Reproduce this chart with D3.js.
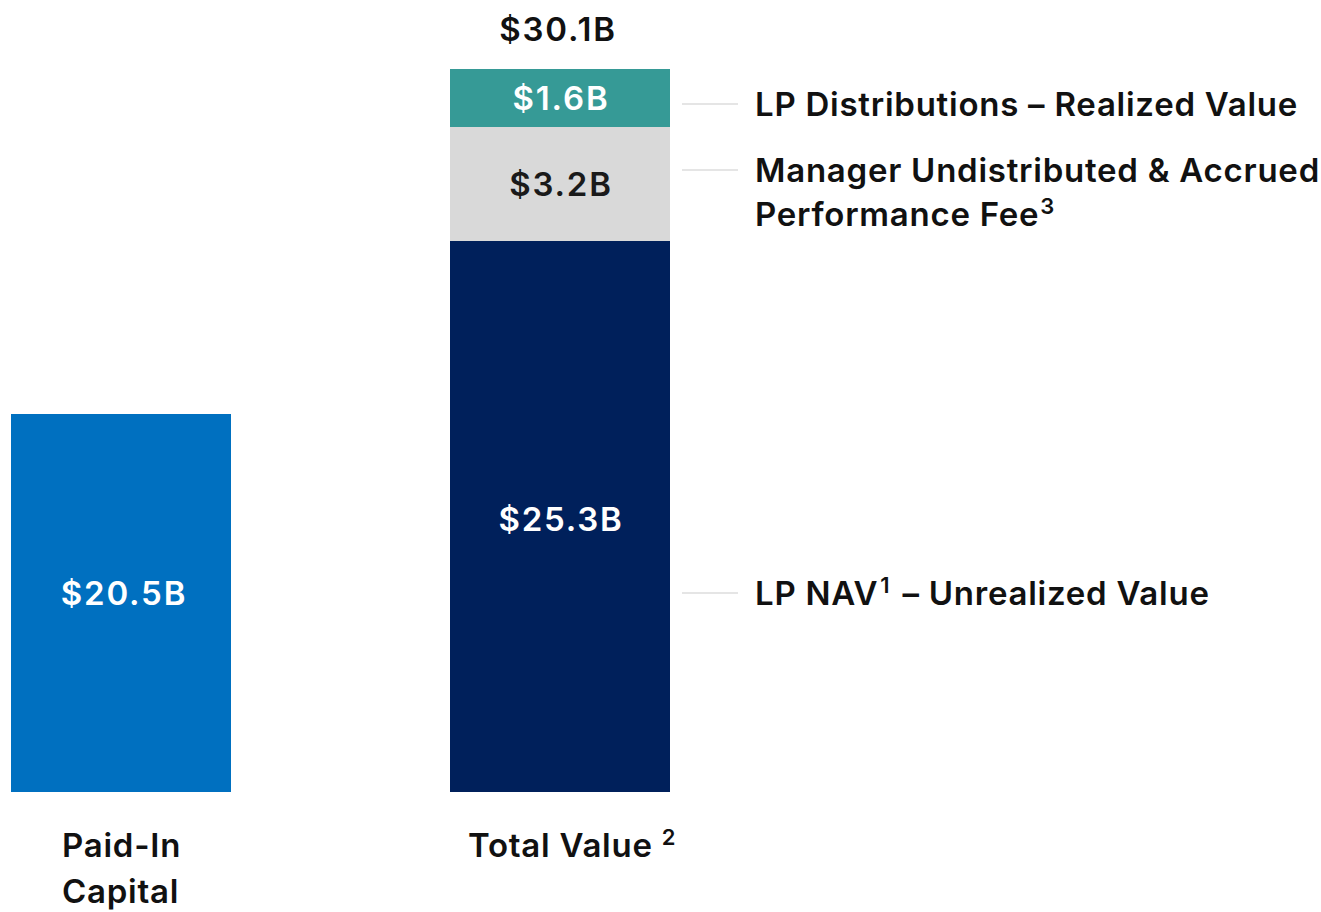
<!DOCTYPE html>
<html><head><meta charset="utf-8">
<script src="https://cdn.jsdelivr.net/npm/d3@7"></script>
<style>
body{margin:0;background:#fff;}
text{font-family:Inter,Roboto,sans-serif;}
</style></head>
<body>
<svg id="chart" width="1321" height="912"></svg>
<script>
// ---- data ----
const categories = ["Paid-In Capital", "Total Value"];
const paidIn = [20.5];
const segmentNames = ["LP NAV – Unrealized Value", "Manager Undistributed & Accrued Performance Fee", "LP Distributions – Realized Value"];
const totalSegments = [25.3, 3.2, 1.6];
const totalLabel = "$30.1B";
const segmentColors = ["#00205B", "#D9D9D9", "#369A96"];
const segmentTextColors = ["#ffffff", "#1a1a1a", "#ffffff"];
const paidInColor = "#0070C0";

const svg = d3.select("#chart");
const baseY = 792;
const FW = 600, FS = 33, LS = 0.75, VLS = 1.8;

const x = d3.scaleOrdinal().domain(categories).range([11, 450]);
const bw = 220;

// y: piecewise linear scale (the original is not drawn proportionally)
const cum = d3.cumsum(totalSegments);
const y = d3.scaleLinear()
  .domain([0, paidIn[0], cum[0], cum[1], cum[2]])
  .range([baseY, 414, 241, 127, 69]);

// Paid-in bar
svg.append("rect")
  .attr("x", x(categories[0])).attr("width", bw)
  .attr("y", y(paidIn[0])).attr("height", y(0) - y(paidIn[0]))
  .attr("fill", paidInColor);
svg.append("text")
  .attr("x", x(categories[0]) + bw/2 + 3).attr("y", (y(0)+y(paidIn[0]))/2 - 10)
  .attr("text-anchor","middle").attr("dominant-baseline","central")
  .attr("fill","#fff").attr("font-size",FS).attr("font-weight",FW).attr("letter-spacing",VLS)
  .text("$" + paidIn[0].toFixed(1) + "B");

// Stacked total bar
const stacked = totalSegments.map((v,i)=>({v, i, y0: i ? cum[i-1] : 0, y1: cum[i]}));
svg.selectAll("rect.seg").data(stacked).join("rect").attr("class","seg")
  .attr("x", x(categories[1])).attr("width", bw)
  .attr("y", d => y(d.y1)).attr("height", d => y(d.y0) - y(d.y1))
  .attr("fill", d => segmentColors[d.i]);
svg.selectAll("text.seg").data(stacked).join("text").attr("class","seg")
  .attr("x", x(categories[1]) + bw/2 + 1)
  .attr("y", d => (y(d.y0)+y(d.y1))/2 + (d.i===0 ? 2 : 0))
  .attr("text-anchor","middle").attr("dominant-baseline","central")
  .attr("fill", d => segmentTextColors[d.i]).attr("font-size",FS).attr("font-weight",FW)
  .attr("letter-spacing",VLS)
  .text(d => "$" + d.v.toFixed(1) + "B");

// Total label
svg.append("text")
  .attr("x", x(categories[1]) + bw/2 - 2).attr("y", y(cum[2]) - 40)
  .attr("text-anchor","middle").attr("dominant-baseline","central")
  .attr("fill","#111").attr("font-size",FS).attr("font-weight",FW).attr("letter-spacing",VLS)
  .text(totalLabel);

// Annotations (connector lines + labels)
const annY = [593, 170, 104];
const annLines = [
  [{t:"LP NAV"},{t:"1",sup:true},{t:" – Unrealized Value"}],
  [{t:"Manager Undistributed & Accrued"}],
  [{t:"LP Distributions – Realized Value"}]
];
stacked.forEach((d,i)=>{
  svg.append("line").attr("x1",682).attr("x2",738).attr("y1",annY[i]).attr("y2",annY[i])
    .attr("stroke","#cccccc").attr("stroke-width",1.2);
  const t = svg.append("text").attr("x",755).attr("y",annY[i]).attr("dominant-baseline","central")
    .attr("fill","#111").attr("font-size",FS).attr("font-weight",FW).attr("letter-spacing",LS);
  annLines[i].forEach((p,j)=>{
    const ts = t.append("tspan").text(p.t);
    if(p.sup) ts.attr("font-size",22).attr("dy",-8).attr("dx",2);
    else if (j>0 && annLines[i][j-1].sup) ts.attr("dy",8).attr("dx",3);
  });
});
const t2 = svg.append("text").attr("x",755).attr("y",214).attr("dominant-baseline","central")
  .attr("fill","#111").attr("font-size",FS).attr("font-weight",FW).attr("letter-spacing",LS);
t2.append("tspan").text("Performance Fee");
t2.append("tspan").text("3").attr("font-size",22).attr("dy",-8).attr("dx",1);

// Category labels
svg.append("text").attr("x",62).attr("y",845).attr("dominant-baseline","central")
  .attr("fill","#111").attr("font-size",FS).attr("font-weight",FW).attr("letter-spacing",LS).text("Paid-In");
svg.append("text").attr("x",62).attr("y",891).attr("dominant-baseline","central")
  .attr("fill","#111").attr("font-size",FS).attr("font-weight",FW).attr("letter-spacing",LS).text("Capital");
const tv = svg.append("text").attr("x",468).attr("y",845).attr("dominant-baseline","central")
  .attr("fill","#111").attr("font-size",FS).attr("font-weight",FW).attr("letter-spacing",LS);
tv.append("tspan").text("Total Value ");
tv.append("tspan").text("2").attr("font-size",22).attr("dy",-8);
</script>
</body></html>
